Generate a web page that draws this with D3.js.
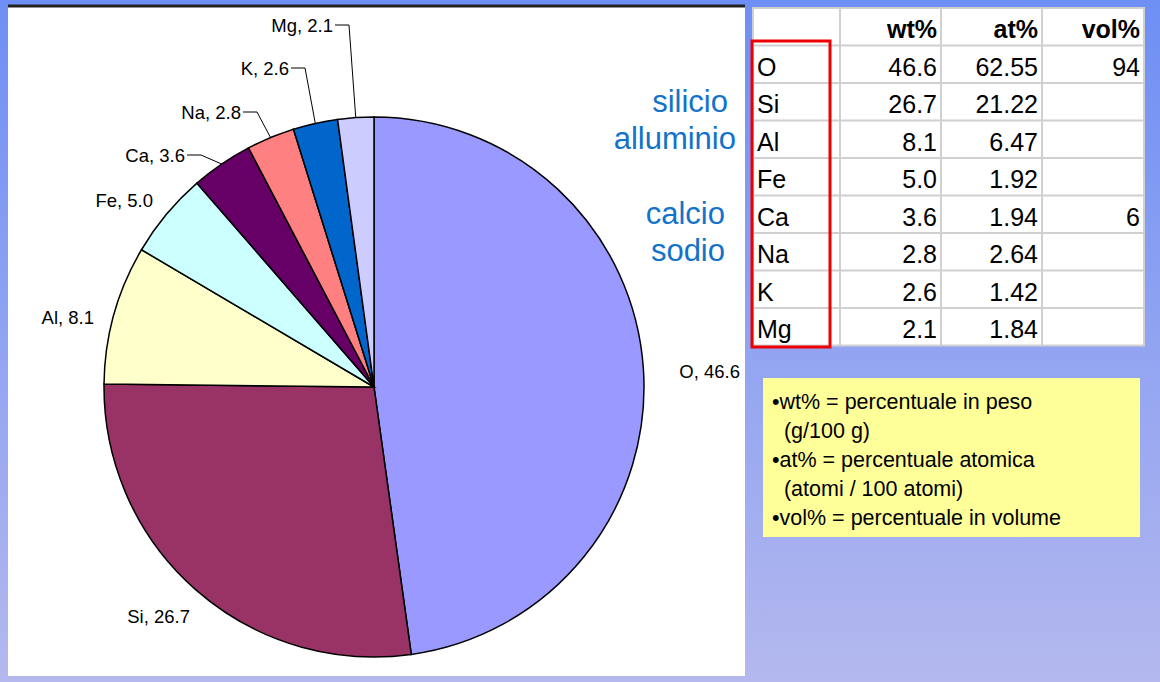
<!DOCTYPE html>
<html><head><meta charset="utf-8">
<script src="https://cdn.jsdelivr.net/npm/d3@7"></script>
<style>body{margin:0;overflow:hidden}svg{display:block}text{font-family:"Liberation Sans",Arial,sans-serif}</style>
</head><body>
<svg width="1160" height="682"></svg>
<script>
var elements = ['O', 'Si', 'Al', 'Fe', 'Ca', 'Na', 'K', 'Mg'];
var wt = [46.6, 26.7, 8.1, 5.0, 3.6, 2.8, 2.6, 2.1];
var wtLabels = ['46.6', '26.7', '8.1', '5.0', '3.6', '2.8', '2.6', '2.1'];
var at = ['62.55', '21.22', '6.47', '1.92', '1.94', '2.64', '1.42', '1.84'];
var vol = ['94', '', '', '', '6', '', '', ''];
var colors = ['#9999ff', '#993366', '#ffffcc', '#ccffff', '#660066', '#ff8080', '#0066cc', '#ccccff'];
// label anchor (text end x, baseline y, anchor, leader line)
var labelPos = [[740, 378, 'end', false], [190, 623, 'end', false], [94, 324, 'end', false], [153, 207, 'end', false],
  [185, 162, 'end', true], [241, 119, 'end', true], [289, 75, 'end', true], [333, 32, 'end', true]];
var notes = ['\u2022wt% = percentuale in peso', '  (g/100 g)', '\u2022at% = percentuale atomica', '  (atomi / 100 atomi)', '\u2022vol% = percentuale in volume'];

var svg = d3.select('svg');
var defs = svg.append('defs');
var grad = defs.append('linearGradient').attr('id', 'bg').attr('x1', 0).attr('y1', 0).attr('x2', 0).attr('y2', 1);
grad.append('stop').attr('offset', 0).attr('stop-color', '#6e8ff5');
grad.append('stop').attr('offset', 1).attr('stop-color', '#b4b8ee');
svg.append('rect').attr('width', 1160).attr('height', 682).attr('fill', 'url(#bg)');

// chart panel
svg.append('rect').attr('x', 8).attr('y', 6).attr('width', 737).attr('height', 670).attr('fill', '#fff');
svg.append('line').attr('x1', 8).attr('x2', 745).attr('y1', 6).attr('y2', 6).attr('stroke', '#222').attr('stroke-width', 3);

var cx = 374, cy = 387, r = 270;
var pie = d3.pie().sort(null).value(function (d) { return d; });
var arc = d3.arc().innerRadius(0).outerRadius(r);
var arcs = pie(wt);
var g = svg.append('g').attr('transform', 'translate(' + cx + ',' + cy + ')');
g.selectAll('path').data(arcs).enter().append('path')
  .attr('d', arc).attr('fill', function (d, i) { return colors[i]; })
  .attr('stroke', '#000').attr('stroke-width', 1.5);

arcs.forEach(function (d, i) {
  var p = labelPos[i];
  svg.append('text').attr('x', p[0]).attr('y', p[1]).attr('text-anchor', p[2])
    .attr('font-size', 18.5).attr('fill', '#000').text(elements[i] + ', ' + wtLabels[i]);
  if (p[3]) {
    var a = (d.startAngle + d.endAngle) / 2;
    var ax = cx + r * Math.sin(a), ay = cy - r * Math.cos(a);
    var ex = p[0] + 16, ey = p[1] - 7;
    svg.append('polyline').attr('points', [p[0] + 2, ey, ex, ey, ax, ay].join(' '))
      .attr('fill', 'none').attr('stroke', '#000').attr('stroke-width', 1);
  }
});

// blue words
var blue = [['silicio', 112, 728], ['alluminio', 149, 736], ['calcio', 224, 725], ['sodio', 261, 725]];
blue.forEach(function (b) {
  svg.append('text').attr('x', b[2]).attr('y', b[1]).attr('text-anchor', 'end')
    .attr('font-family', 'Open Sans').attr('font-size', 31).attr('font-weight', 500).attr('fill', '#1372c9').text(b[0]);
});

// table
var tx = 753, colW = [87, 101, 101, 102], rowH = 37.5, ty = 8;
var colX = [tx];
colW.forEach(function (w, i) { colX.push(colX[i] + w); });
var tw = colX[4] - tx, th = rowH * 9;
svg.append('rect').attr('x', tx).attr('y', ty).attr('width', tw).attr('height', th).attr('fill', '#fff').attr('stroke', '#d0d0d0').attr('stroke-width', 2);
for (var k = 1; k < 9; k++) svg.append('line').attr('x1', tx).attr('x2', tx + tw).attr('y1', ty + k * rowH).attr('y2', ty + k * rowH).attr('stroke', '#d0d0d0').attr('stroke-width', 2);
for (var k = 1; k < 4; k++) svg.append('line').attr('x1', colX[k]).attr('x2', colX[k]).attr('y1', ty).attr('y2', ty + th).attr('stroke', '#d0d0d0').attr('stroke-width', 2);
var heads = ['wt%', 'at%', 'vol%'];
heads.forEach(function (h, i) {
  svg.append('text').attr('x', colX[i + 2] - 4).attr('y', ty + 30).attr('text-anchor', 'end')
    .attr('font-size', 25).attr('font-weight', 'bold').text(h);
});
elements.forEach(function (e, i) {
  var y = ty + (i + 1) * rowH + 30;
  svg.append('text').attr('x', tx + 4).attr('y', y).attr('font-size', 25).text(e);
  [wtLabels[i], at[i], vol[i]].forEach(function (v, j) {
    svg.append('text').attr('x', colX[j + 2] - 4).attr('y', y).attr('text-anchor', 'end').attr('font-size', 25).text(v);
  });
});
svg.append('rect').attr('x', 752).attr('y', 41).attr('width', 78).attr('height', 306)
  .attr('fill', 'none').attr('stroke', '#ee0000').attr('stroke-width', 3);

// notes box
svg.append('rect').attr('x', 763).attr('y', 378).attr('width', 377).attr('height', 159).attr('fill', '#ffff99');
notes.forEach(function (n, i) {
  svg.append('text').attr('x', 772).attr('y', 409 + i * 29).attr('font-size', 21.5)
    .style('white-space', 'pre').text(n);
});
</script>
</body></html>
